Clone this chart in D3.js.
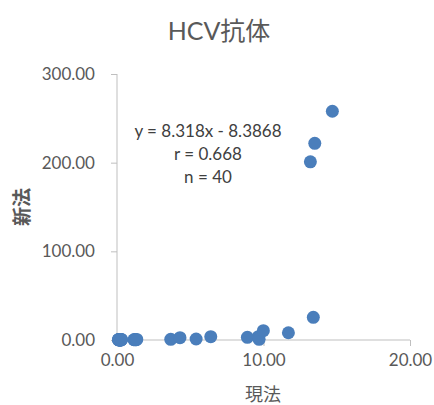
<!DOCTYPE html>
<html>
<head>
<meta charset="utf-8">
<script src="https://cdn.jsdelivr.net/npm/d3@7"></script>
<style>
  body { margin: 0; background: #fff; }
  svg text { font-family: Lato, "Noto Sans CJK JP", sans-serif; fill: #595959; }
  .axis path, .axis line { stroke: #bfbfbf; stroke-width: 1; }
</style>
</head>
<body>
<div id="chart"></div>
<script>
// 現法 (x) / 新法 (y) pairs
const genpo = [
  0.10, 0.12, 0.15, 0.18, 0.20, 0.22, 0.25, 0.28, 0.30, 0.12, 0.18, 0.24,
  0.15, 0.20, 0.26, 0.10, 0.22, 0.30, 0.18, 0.25, 0.14, 0.28,
  1.15, 1.20, 1.25, 1.30, 1.35,
  3.67, 4.30, 5.40, 6.40, 8.90, 9.65, 9.70, 9.99, 11.70, 13.40, 13.20, 13.50, 14.70
];
const shinpo = [
  0.2, 0.3, 0.1, 0.4, 0.2, 0.5, 0.3, 0.1, 0.4, 0.6, 0.2, 0.3,
  0.1, 0.5, 0.2, 0.4, 0.3, 0.6, 0.2, 0.1, 0.3, 0.4,
  0.3, 0.5, 0.2, 0.4, 0.6,
  0.8, 2.6, 1.1, 3.7, 3.0, 3.7, 0.8, 10.5, 8.2, 25.6, 201.0, 221.8, 258.0
];
const xTicks = [0, 10, 20];
const yTicks = [0, 100, 200, 300];
const title = "HCV抗体";
const xTitle = "現法";
const yTitle = "新法";
const statLines = ["y = 8.318x - 8.3868", "r = 0.668", "n = 40"];

const W = 434, H = 405;
const svg = d3.select("#chart").append("svg").attr("width", W).attr("height", H);

const x = d3.scaleLinear().domain([0, 20]).range([117, 410]);
const y = d3.scaleLinear().domain([0, 300]).range([340, 74]);

svg.append("text").attr("x", 219).attr("y", 40).attr("text-anchor", "middle")
   .style("font-size", "25px").text(title);

const gx = svg.append("g").attr("class", "axis").attr("transform", "translate(0,340)")
  .call(d3.axisBottom(x).tickValues(xTicks).tickSize(6).tickSizeOuter(0).tickFormat(d3.format(".2f")));
const gy = svg.append("g").attr("class", "axis").attr("transform", "translate(117,0)")
  .call(d3.axisLeft(y).tickValues(yTicks).tickSize(6).tickSizeOuter(0).tickFormat(d3.format(".2f")));

gx.selectAll("text").attr("y", 14).style("font-size", "17px").style("fill", "#595959");
gy.selectAll("text").attr("x", -22).style("font-size", "17px").style("fill", "#595959");
gx.select(".domain").remove();
gx.append("line").attr("x1", 117).attr("x2", 410).attr("stroke", "#bfbfbf");
gy.select(".domain").remove();
gy.append("line").attr("y1", 74).attr("y2", 340).attr("stroke", "#bfbfbf");

svg.append("g").selectAll("circle")
   .data(genpo.map((g, i) => [g, shinpo[i]]))
   .enter()
   .append("circle")
   .attr("cx", d => x(d[0]))
   .attr("cy", d => y(d[1]))
   .attr("r", 6.5)
   .attr("fill", "#4a7ebb");

svg.append("g").selectAll("text")
   .data(statLines)
   .enter()
   .append("text")
   .attr("x", 208)
   .attr("y", (d, i) => 137 + i * 23)
   .attr("text-anchor", "middle")
   .style("font-size", "17px")
   .style("fill", "#404040")
   .text(d => d);

svg.append("text").attr("x", 263).attr("y", 401).attr("text-anchor", "middle")
   .style("font-size", "18px").text(xTitle);

svg.append("text").attr("transform", "translate(29,207) rotate(-90)").attr("text-anchor", "middle")
   .style("font-size", "19px").style("font-weight", "bold").style("fill", "#595959").text(yTitle);
</script>
</body>
</html>
